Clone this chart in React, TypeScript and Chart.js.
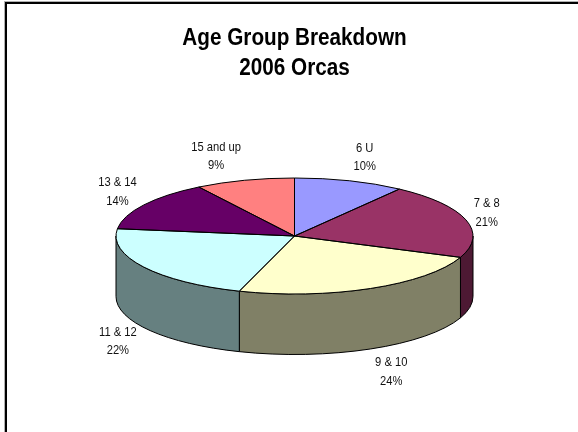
import { useEffect, useRef } from 'react';
import { Chart, registerables } from 'chart.js';

Chart.register(...registerables);

// ---- data ----
const categories = ['6 U', '7 & 8', '9 & 10', '11 & 12', '13 & 14', '15 and up'];
const sharePercent = [10, 21, 24, 22, 14, 9];
const titleLines = ['Age Group Breakdown', '2006 Orcas'];

// ---- styles ----
const topColors = ['#9999FF', '#993366', '#FFFFCC', '#CCFFFF', '#660066', '#FF8080'];
const sideColors = ['#4C4C80', '#4D1933', '#808066', '#668080', '#330033', '#804040'];
const TILT = 58 / 178.5; // vertical squash of the top face
const DEPTH = 60.5; // thickness of the 3D pie
const FONT_FAMILY = '"Liberation Sans", Arial, sans-serif';
const LABEL_SIZE = 13;
const TITLE_SIZE = 23;
const TITLE_LINE = 30;
const TITLE_PAD_TOP = 23.5;
const LABEL_CONDENSE = 0.86; // the reference text is slightly narrow
const TITLE_CONDENSE = 0.9;

function condensedText(ctx: CanvasRenderingContext2D, text: string, x: number, y: number, k: number) {
  ctx.save();
  ctx.translate(x, y);
  ctx.scale(k, 1);
  ctx.fillText(text, 0, 0);
  ctx.restore();
}

const pie3d = {
  id: 'pie3d',
  beforeDatasetsDraw(chart: any) {
    const ctx = chart.ctx as CanvasRenderingContext2D;
    const arcs = chart.getDatasetMeta(0).data;
    chart.$pie3dSaved = false;
    if (!arcs.length) return;
    const { x: cx, y: cy, outerRadius: r } = arcs[0].getProps(['x', 'y', 'outerRadius'], true);
    const ry = r * TILT;
    ctx.save();
    ctx.lineWidth = 1;
    ctx.strokeStyle = '#000';
    ctx.lineJoin = 'round';
    arcs.forEach((arc: any, i: number) => {
      const { startAngle, endAngle } = arc.getProps(['startAngle', 'endAngle'], true);
      const lo = Math.max(startAngle, 0);
      const hi = Math.min(endAngle, Math.PI);
      if (hi <= lo) return;
      ctx.beginPath();
      ctx.ellipse(cx, cy, r, ry, 0, lo, hi, false);
      ctx.lineTo(cx + r * Math.cos(hi), cy + DEPTH + ry * Math.sin(hi));
      ctx.ellipse(cx, cy + DEPTH, r, ry, 0, hi, lo, true);
      ctx.closePath();
      ctx.fillStyle = sideColors[i % sideColors.length];
      ctx.fill();
      ctx.stroke();
    });
    ctx.restore();
    // squash the library-drawn circle into the top ellipse
    ctx.save();
    ctx.translate(0, cy);
    ctx.scale(1, TILT);
    ctx.translate(0, -cy);
    chart.$pie3dSaved = true;
  },
  afterDatasetsDraw(chart: any) {
    const ctx = chart.ctx as CanvasRenderingContext2D;
    if (chart.$pie3dSaved) ctx.restore();
    const meta = chart.getDatasetMeta(0);
    const arcs = meta.data;
    if (!arcs.length) return;
    const { x: cx, y: cy, outerRadius: r } = arcs[0].getProps(['x', 'y', 'outerRadius'], true);
    const ry = r * TILT;
    const values = chart.data.datasets[0].data as number[];
    const total = values.reduce((a, b) => a + b, 0);

    ctx.save();
    ctx.lineWidth = 1;
    ctx.strokeStyle = '#000';
    ctx.lineJoin = 'round';
    arcs.forEach((arc: any) => {
      const { startAngle, endAngle } = arc.getProps(['startAngle', 'endAngle'], true);
      ctx.beginPath();
      ctx.moveTo(cx, cy);
      ctx.ellipse(cx, cy, r, ry, 0, startAngle, endAngle, false);
      ctx.closePath();
      ctx.stroke();
    });

    ctx.font = `${LABEL_SIZE}px ${FONT_FAMILY}`;
    ctx.fillStyle = '#111';
    ctx.textAlign = 'center';
    ctx.textBaseline = 'middle';
    arcs.forEach((arc: any, i: number) => {
      const { startAngle, endAngle } = arc.getProps(['startAngle', 'endAngle'], true);
      const mid = (startAngle + endAngle) / 2;
      const ux = Math.cos(mid);
      const uy = Math.sin(mid);
      const line1 = String(chart.data.labels[i]);
      const line2 = Math.round((values[i] / total) * 100) + '%';
      const half =
        (Math.max(ctx.measureText(line1).width, ctx.measureText(line2).width) * LABEL_CONDENSE) / 2;
      const px = cx + r * ux;
      const x = px + Math.sign(ux) * (half + 2 + 6 * Math.abs(ux));
      const y = cy + (ry + 25) * uy + (uy > 0 ? DEPTH : 0);
      condensedText(ctx, line1, x, y - 9, LABEL_CONDENSE);
      condensedText(ctx, line2, x, y + 9.5, LABEL_CONDENSE);
    });
    ctx.restore();
  },
  afterDraw(chart: any) {
    // title text drawn in the reserved title block, slightly condensed
    const block = chart.titleBlock;
    if (!block) return;
    const ctx = chart.ctx as CanvasRenderingContext2D;
    const lines = chart.options.plugins.title.text as string[];
    ctx.save();
    ctx.font = `bold ${TITLE_SIZE}px ${FONT_FAMILY}`;
    ctx.fillStyle = '#000';
    ctx.textAlign = 'center';
    ctx.textBaseline = 'middle';
    const meta = chart.getDatasetMeta(0);
    const x = meta.data.length ? meta.data[0].x : (block.left + block.right) / 2;
    lines.forEach((line, i) => {
      condensedText(ctx, line, x, block.top + TITLE_PAD_TOP + TITLE_LINE / 2 + i * TITLE_LINE, TITLE_CONDENSE);
    });
    ctx.restore();
  },
};

export default function App() {
  const canvasRef = useRef<HTMLCanvasElement | null>(null);

  useEffect(() => {
    if (!canvasRef.current) return;
    const chart = new Chart(canvasRef.current, {
      type: 'pie',
      data: {
        labels: categories,
        datasets: [
          {
            data: sharePercent,
            backgroundColor: topColors,
            borderWidth: 0,
          },
        ],
      },
      options: {
        responsive: false,
        animation: false,
        radius: 178.5,
        layout: { padding: { left: 11, right: 0, top: 0, bottom: 43 } },
        plugins: {
          legend: { display: false },
          tooltip: { enabled: false },
          title: {
            display: true,
            text: titleLines,
            color: 'rgba(0,0,0,0)',
            font: { family: FONT_FAMILY, size: TITLE_SIZE, weight: 'bold', lineHeight: `${TITLE_LINE}px` },
            padding: { top: 23, bottom: 0 },
          },
        },
      } as any,
      plugins: [pie3d],
    });
    return () => chart.destroy();
  }, []);

  return (
    <div
      style={{
        position: 'absolute',
        left: 0,
        top: 0,
        width: 578,
        height: 432,
        overflow: 'hidden',
        background: '#fff',
      }}
    >
      <canvas ref={canvasRef} width={578} height={432} style={{ position: 'absolute', left: 0, top: 0 }} />
      <div
        style={{
          position: 'absolute',
          left: 5,
          top: 2,
          width: 700,
          height: 600,
          borderLeft: '2px solid #000',
          borderTop: '2px solid #000',
          boxShadow: '-1px -1px 0 #b0b0b0',
          pointerEvents: 'none',
        }}
      />
    </div>
  );
}
